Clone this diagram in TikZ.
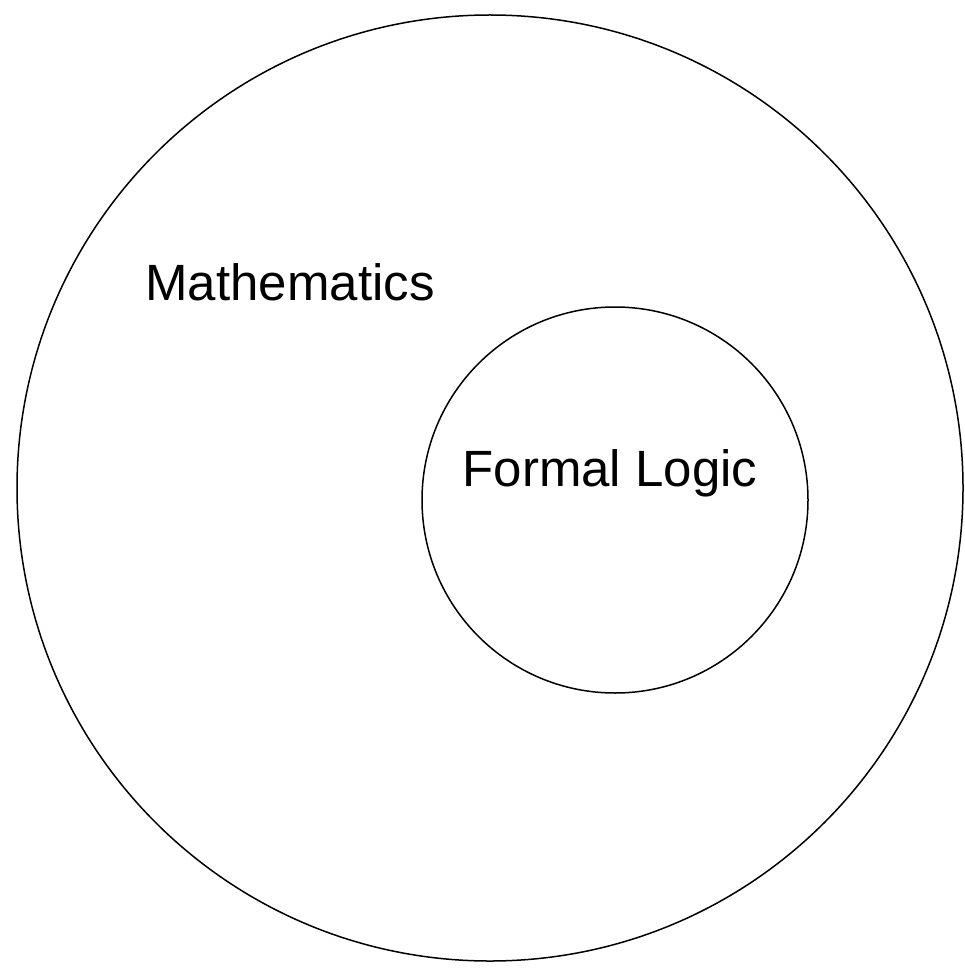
\documentclass[tikz,border=0pt]{standalone}
\usepackage{fontspec}
\setmainfont{Liberation Sans}
\begin{document}
\begin{tikzpicture}[x=1pt,y=-1pt,
  ring/.style={draw=black,line width=1.5pt,circle,inner sep=0pt},
  lbl/.style={font=\fontsize{51}{61}\selectfont,inner sep=0pt}]
\useasboundingbox (0,0) rectangle (965,968);
\node[ring,minimum size=946pt] (outer) at (490,488) {};
\node[ring,minimum size=386pt] (inner) at (615,500) {};
\node[lbl] (math) at (290,282) {Mathematics};
\node[lbl] (logic) at (610,473) {Formal Logic};
\end{tikzpicture}
\end{document}
